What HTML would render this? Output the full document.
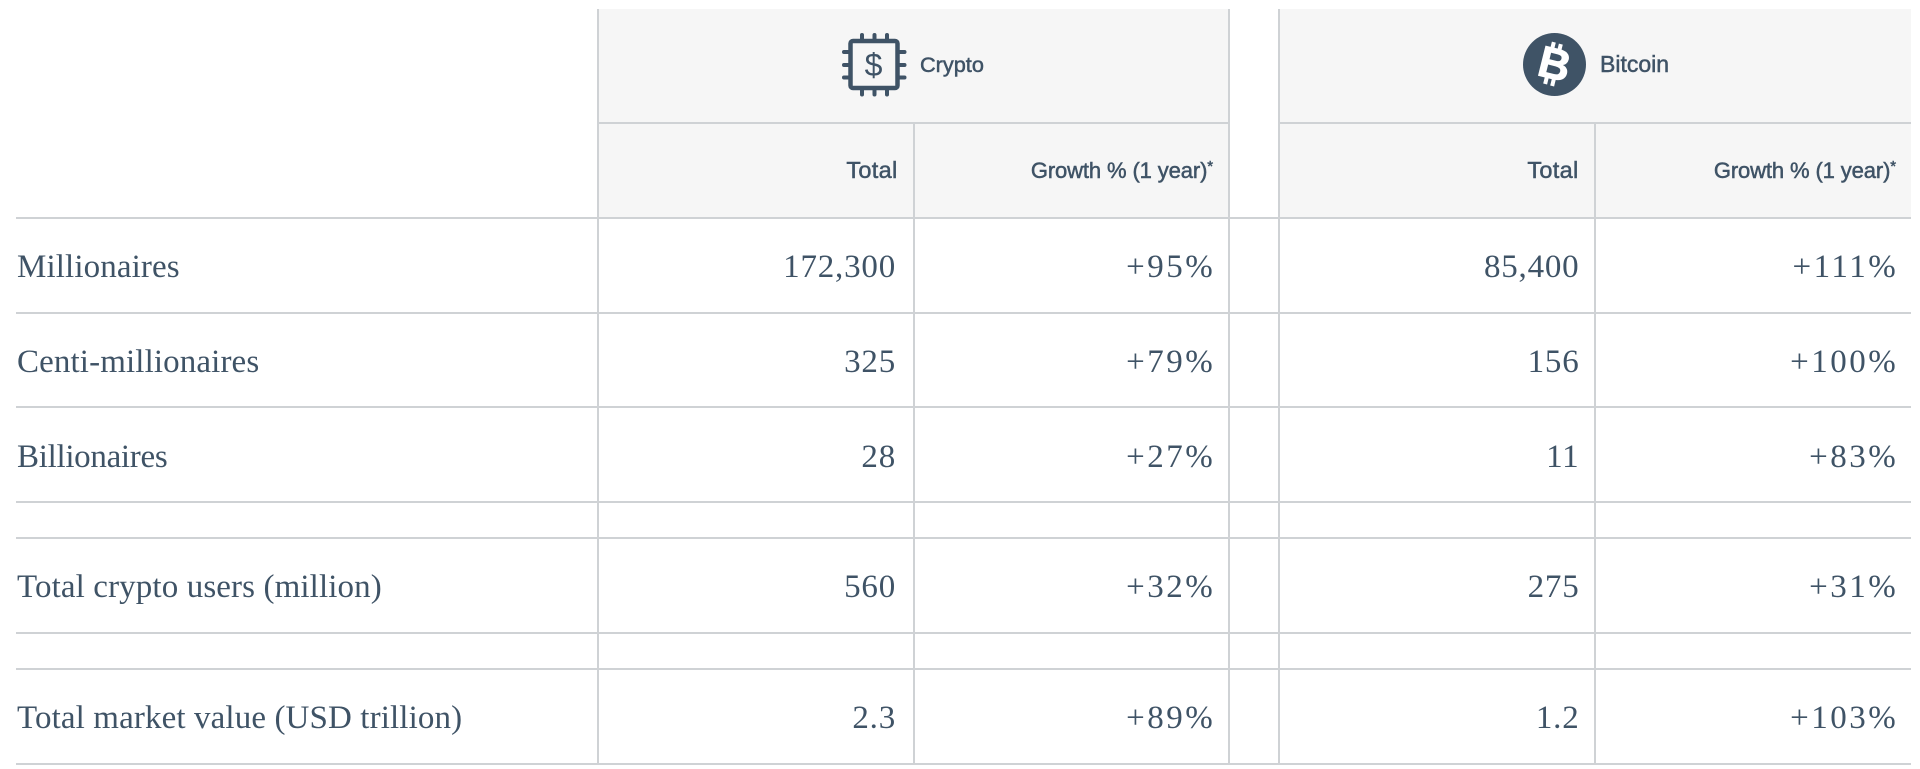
<!DOCTYPE html>
<html lang="en">
<head>
<meta charset="utf-8">
<title>Crypto and Bitcoin wealth table</title>
<style>
html,body{margin:0;padding:0;background:#fff;}
body{width:1920px;height:769px;overflow:hidden;position:relative;color:#3f5366;}
table{position:absolute;left:16px;top:9px;width:1895px;table-layout:fixed;border-collapse:separate;border-spacing:0;}
th,td{box-sizing:border-box;padding:0;border-bottom:2px solid #cfd2d5;}
td+td,th+th,th.nl{border-left:2px solid #cfd2d5;}
th{background:#f6f6f6;font:400 22px/1 "Liberation Sans",sans-serif;-webkit-text-stroke:.5px #3f5366;text-align:right;vertical-align:middle;}
th.blank{background:#fff;}
th.blank.first{border-left:0;border-bottom:2px solid #cfd2d5;}
th.num{padding:0 15px 0 0;letter-spacing:-.12px;}
th.num.total{font-size:23.5px;padding-right:15.5px;letter-spacing:.3px;}
th.num sup{font-size:15px;line-height:0;vertical-align:7px;}
th.group{text-align:left;position:relative;}
td{font:400 33px/1 "Liberation Serif",serif;text-align:right;padding:4px 14.5px 0 0;vertical-align:middle;letter-spacing:.8px;}
td.col-crypto-total{padding-right:17px;}
td.growth{letter-spacing:2.5px;padding-right:12.8px;}
td.label{text-align:left;padding:4px 0 0 1px;letter-spacing:.12px;}
td.label.tight{letter-spacing:-.3px;}
tr.nudge td{padding-top:6px;}
tr.row{height:95px;}
tr.row.short{height:94px;}
tr.spacer{height:36px;}
.group-label{position:absolute;white-space:nowrap;}
svg{position:absolute;overflow:visible;}
.btc{position:absolute;width:63px;height:63px;border-radius:50%;background:#3f5366;}
.btc span{position:absolute;left:0;top:0;width:63px;text-align:center;color:#fff;font:700 44px/63px "Liberation Sans",sans-serif;-webkit-text-stroke:.8px #fff;transform:rotate(14deg);}
.btc i{position:absolute;background:#fff;width:3.5px;height:7px;transform:rotate(14deg);}
</style>
</head>
<body>
<table>
<colgroup><col style="width:581px"><col style="width:316px"><col style="width:315px"><col style="width:50px"><col style="width:316px"><col style="width:317px"></colgroup>
<thead>
<tr style="height:115px">
<th class="blank first" rowspan="2"></th>
<th class="group nl" colspan="2">
<svg style="left:244px;top:25px" width="64" height="64" viewBox="0 0 64 64">
<g fill="none" stroke="#3f5366" stroke-linecap="round">
<rect x="7.5" y="7" width="47" height="47" rx="2.5" stroke-width="4.5"/>
<path stroke-width="4" d="M19 1V6M31.5 1V6M44 1V6M19 55V60.5M31.5 55V60.5M44 55V60.5M1 18H6M1 31H6M1 43.5H6M56 18H61.5M56 31H61.5M56 43.5H61.5"/>
</g>
<text x="30.5" y="42" text-anchor="middle" font-family="Liberation Sans, sans-serif" font-size="32" font-weight="400" fill="#3f5366" style="-webkit-text-stroke:1.3px #3f5366">$</text>
</svg>
<span class="group-label" style="left:321px;top:45px;font-size:21.7px">Crypto</span>
</th>
<th class="blank nl" rowspan="2"></th>
<th class="group nl" colspan="2">
<div class="btc" style="left:243px;top:24px">
<span>B</span>
<i style="left:28px;top:9px"></i><i style="left:35px;top:10.5px"></i>
<i style="left:21px;top:44px"></i><i style="left:28px;top:45.5px"></i>
</div>
<span class="group-label" style="left:320px;top:44px;font-size:23px">Bitcoin</span>
</th>
</tr>
<tr style="height:95px">
<th class="num total nl">Total</th>
<th class="num nl">Growth % (1 year)<sup>*</sup></th>
<th class="num total nl">Total</th>
<th class="num nl">Growth % (1 year)<sup>*</sup></th>
</tr>
</thead>
<tbody>
<tr class="row">
<td class="label">Millionaires</td>
<td class="col-crypto-total">172,300</td>
<td class="growth">+95%</td>
<td></td>
<td>85,400</td>
<td class="growth">+111%</td>
</tr>
<tr class="row short">
<td class="label">Centi-millionaires</td>
<td class="col-crypto-total">325</td>
<td class="growth">+79%</td>
<td></td>
<td>156</td>
<td class="growth">+100%</td>
</tr>
<tr class="row nudge">
<td class="label tight">Billionaires</td>
<td class="col-crypto-total">28</td>
<td class="growth">+27%</td>
<td></td>
<td>11</td>
<td class="growth">+83%</td>
</tr>
<tr class="spacer"><td></td><td></td><td></td><td></td><td></td><td></td></tr>
<tr class="row">
<td class="label">Total crypto users (million)</td>
<td class="col-crypto-total">560</td>
<td class="growth">+32%</td>
<td></td>
<td>275</td>
<td class="growth">+31%</td>
</tr>
<tr class="spacer"><td></td><td></td><td></td><td></td><td></td><td></td></tr>
<tr class="row">
<td class="label">Total market value (USD trillion)</td>
<td class="col-crypto-total">2.3</td>
<td class="growth">+89%</td>
<td></td>
<td>1.2</td>
<td class="growth">+103%</td>
</tr>
</tbody>
</table>
</body>
</html>
